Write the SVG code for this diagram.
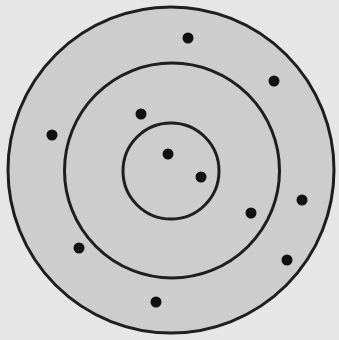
<svg xmlns="http://www.w3.org/2000/svg" width="339" height="340" viewBox="0 0 339 340">
<style>
.ring{fill:none;stroke:#1e1e1e;stroke-width:3}
.dot{fill:#111}
</style>
<rect width="339" height="340" fill="#e6e6e6"/>
<circle cx="171" cy="170" r="163" fill="#cdcdcd"/>
<g id="outer"><circle class="ring" cx="171" cy="170" r="163"/></g>
<g id="middle"><circle class="ring" cx="172" cy="170.5" r="107.5"/></g>
<g id="inner"><circle class="ring" cx="171" cy="171" r="48"/></g>
<g id="dots">
<circle class="dot" cx="188" cy="38" r="5.5"/>
<circle class="dot" cx="274" cy="81" r="5.5"/>
<circle class="dot" cx="141" cy="114" r="5.5"/>
<circle class="dot" cx="52" cy="135" r="5.5"/>
<circle class="dot" cx="168" cy="154" r="5.5"/>
<circle class="dot" cx="201" cy="177" r="5.5"/>
<circle class="dot" cx="251" cy="213" r="5.5"/>
<circle class="dot" cx="302" cy="200" r="5.5"/>
<circle class="dot" cx="79" cy="248" r="5.5"/>
<circle class="dot" cx="287" cy="260" r="5.5"/>
<circle class="dot" cx="156" cy="302" r="5.5"/>
</g>
</svg>
